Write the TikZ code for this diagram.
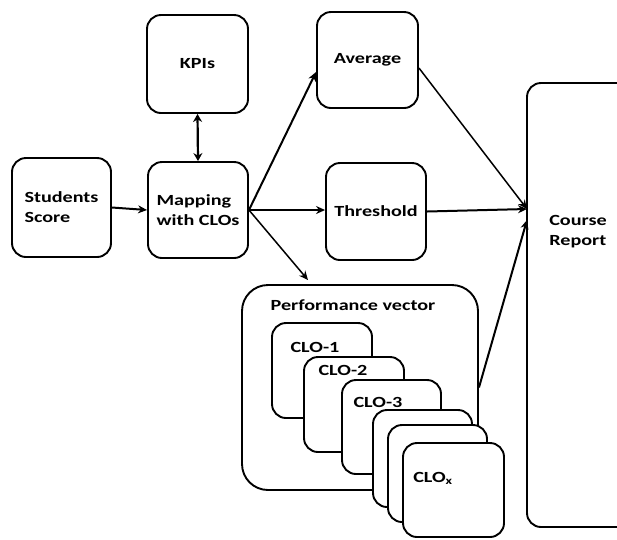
\documentclass[tikz,border=0pt]{standalone}
\usepackage{fontspec}
\setmainfont{Carlito}[BoldFeatures={FakeStretch=1.3}]
\usetikzlibrary{arrows.meta}
\begin{document}
\begin{tikzpicture}[x=1pt,y=-1pt,
  box/.style={draw, line width=1.9pt, rounded corners=14pt, fill=white, inner sep=0pt,
    font=\fontsize{15.5}{20}\selectfont\bfseries, align=left},
  lbl/.style={font=\fontsize{15.5}{20}\selectfont\bfseries, align=left, inner sep=0pt},
  arr/.style={line width=2pt, -{Stealth[length=9pt,width=8pt]}},
  thinarr/.style={line width=1.5pt, -{Stealth[length=9pt,width=8pt]}}]
\useasboundingbox (0,0) rectangle (617,539);
% main boxes
\node[box, minimum width=99pt, minimum height=99pt] (students) at (61.5,207.5) {Students\\Score};
\node[box, minimum width=100pt, minimum height=96pt] (mapping) at (198,210) {Mapping\\with CLOs};
\node[box, minimum width=101pt, minimum height=98pt] (kpis) at (197.5,64) {KPIs};
\node[box, minimum width=101pt, minimum height=96pt] (average) at (367.5,60) {Average};
\node[box, minimum width=100pt, minimum height=97pt] (threshold) at (376,211.5) {Threshold};
\node[box, minimum width=140pt, minimum height=444pt] (course) at (597,305) {};
\node[lbl] (coursetxt) at (578,232) {Course\\Report};
% performance vector
\node[box, rounded corners=26pt, minimum width=236pt, minimum height=205pt] (perf) at (360,387.5) {};
\node[lbl] (perftxt) at (353,305) {Performance vector};
\node[box, minimum width=100pt, minimum height=95pt] (clo1) at (322,370.5) {};
\node[lbl] (clo1txt) at (315,347) {CLO-1};
\node[box, minimum width=100pt, minimum height=95pt] (clo2) at (354,404.5) {};
\node[lbl] (clo2txt) at (343,370) {CLO-2};
\node[box, minimum width=99pt, minimum height=94pt] (clo3) at (391.5,427) {};
\node[lbl] (clo3txt) at (378,402) {CLO-3};
\node[box, minimum width=99pt, minimum height=97pt] (clo4) at (422.5,458.5) {};
\node[box, minimum width=99pt, minimum height=97pt] (clo5) at (437.5,473.5) {};
\node[box, minimum width=101pt, minimum height=94pt] (clox) at (453.5,490) {};
\node[lbl] (cloxtxt) at (433,478) {CLO\textsubscript{x}};
% arrows
\coordinate (cin) at (527,209);
\draw[arr] (students.east) -- (mapping.west);
\draw[line width=2.2pt, {Stealth[length=8pt,width=9pt]}-{Stealth[length=8pt,width=9pt]}] (kpis.south) -- (mapping.north);
\draw[arr] (mapping.east) -- ([yshift=-12pt]average.west);
\draw[arr] (mapping.east) -- (threshold.west |- mapping.east);
\draw[thinarr] (mapping.east) -- (308,280);
\draw[thinarr] ([yshift=-8pt]average.east) -- (cin);
\draw[arr] (threshold.east) -- (cin);
\draw[arr] (perf.east) -- ([yshift=-11pt]cin);
\end{tikzpicture}
\end{document}
